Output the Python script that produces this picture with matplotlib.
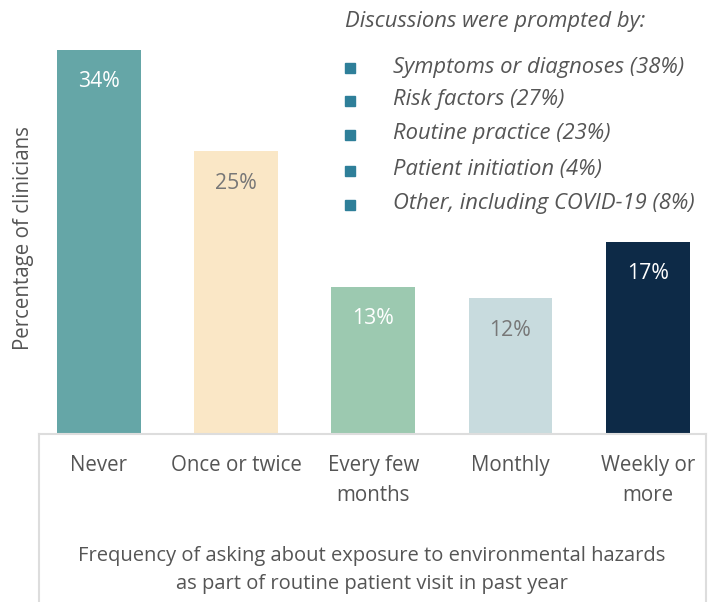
import matplotlib.pyplot as plt
from matplotlib.lines import Line2D
from matplotlib.patches import Rectangle

plt.rcParams['font.family'] = ['Open Sans', 'DejaVu Sans']

# data
categories = ['Never', 'Once or twice', 'Every few\nmonths', 'Monthly', 'Weekly or\nmore']
values = [34, 25, 13, 12, 17]
bar_colors = ['#65A6A7', '#FAE7C6', '#9CC9B0', '#C8DBDE', '#0D2A47']
label_colors = ['white', '#777777', 'white', '#777777', 'white']
reasons = ['Symptoms or diagnoses (38%)', 'Risk factors (27%)', 'Routine practice (23%)',
           'Patient initiation (4%)', 'Other, including COVID-19 (8%)']

W, H = 716, 602
text_col = '#555555'
box_col = '#DDDDDD'

fig = plt.figure(figsize=(W / 100, H / 100), dpi=100)
ax = fig.add_axes([39 / W, (H - 434) / H, 667 / W, 434 / H])

x = range(len(categories))
ax.bar(x, values, width=0.61, color=bar_colors)
for i, v in enumerate(values):
    ax.text(i, v - 2.8, f'{v}%', ha='center', va='center', fontsize=15.3,
            color=label_colors[i])

ax.set_xlim(-0.436, 4.425)
ax.set_ylim(0, 38.4)
ax.set_xticks(list(x))
ax.set_xticklabels(categories, fontsize=14.8, color=text_col, linespacing=1.55)
ax.tick_params(axis='x', length=0, pad=15)
ax.set_yticks([])
for s in ax.spines.values():
    s.set_visible(False)


def fx(px):
    return px / W


def fy(py):
    return 1 - py / H


# box around the category area
fig.add_artist(Line2D([fx(39), fx(39)], [fy(434), 0], color=box_col, lw=1.5))
fig.add_artist(Line2D([fx(39), fx(706)], [fy(434), fy(434)], color=box_col, lw=1.5))
fig.add_artist(Line2D([fx(706), fx(706)], [fy(434), 0], color=box_col, lw=1.5))

fig.text(fx(372), fy(570), 'Frequency of asking about exposure to environmental hazards\n'
         'as part of routine patient visit in past year',
         ha='center', va='center', fontsize=14.5, color=text_col, linespacing=1.55)

fig.text(fx(24), fy(238), 'Percentage of clinicians', rotation=90,
         ha='center', va='center', fontsize=14.8, color=text_col)

# legend of reasons
fig.text(fx(345), fy(22), 'Discussions were prompted by:', style='italic',
         ha='left', va='center', fontsize=15.8, color=text_col)
ys = [67, 100, 134, 170, 204]
for r, yy in zip(reasons, ys):
    fig.add_artist(Rectangle((fx(345), fy(yy + 6)), 10 / W, 10 / H,
                             transform=fig.transFigure, color='#2E7F99'))
    fig.text(fx(393), fy(yy), r, style='italic', ha='left', va='center',
             fontsize=15.8, color=text_col)

fig.savefig('out.png', dpi=100)
